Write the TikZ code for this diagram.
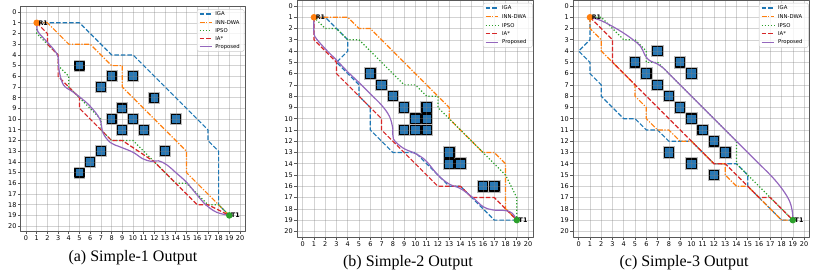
\documentclass[tikz,border=0pt]{standalone}
\usepackage{fontspec}
\setmainfont{Liberation Serif}
\setsansfont{DejaVu Sans}
\usepackage{xcolor}
\usepackage{tikz}

\definecolor{igablue}{HTML}{1F77B4}
\definecolor{innorange}{HTML}{FF7F0E}
\definecolor{ipsogreen}{HTML}{2CA02C}
\definecolor{iared}{HTML}{D62728}
\definecolor{propviolet}{HTML}{9467BD}
\definecolor{obsblue}{HTML}{2878B5}

% grid, frame and ticks of one panel (grid units)
\newcommand{\gridaxes}{%
  \foreach \k in {0,...,20} {
    \draw[gridln] (\k,-0.5) -- (\k,20.5);
    \draw[gridln] (-0.5,\k) -- (20.5,\k);
    \draw[axln] (\k,20.5) -- ++(0,0.28) node[ticklab, anchor=north] {\k};
    \draw[axln] (-0.5,\k) -- ++(-0.28,0) node[ticklab, anchor=east] {\k};
  }
  \draw[axln] (-0.5,-0.5) rectangle (20.5,20.5);
}
\newcommand{\blocks}[1]{%
  \foreach \ox/\oy in {#1}
    \fill[obstout] (\ox-0.56,\oy-0.56) rectangle (\ox+0.56,\oy+0.56);
  \foreach \ox/\oy in {#1}
    \filldraw[obstin] (\ox-0.42,\oy-0.42) rectangle (\ox+0.42,\oy+0.42);
}
\newcommand{\plotlegend}{%
  \draw[legbox] (16,-0.25) rectangle (20.38,3.68);
  \foreach \st/\nm [count=\i from 0] in {iga/IGA, inn/INN-DWA, ipso/IPSO, iast/IA*, prop/Proposed} {
    \draw[\st] (16.22,{0.18+0.76*\i}) -- (17.36,{0.18+0.76*\i});
    \node[legtext] at (17.68,{0.18+0.76*\i}) {\nm};
  }
}

\begin{document}
\begin{tikzpicture}[
  x=1pt, y=-1pt,
  gridln/.style={draw=gray, opacity=0.35, line width=0.6pt},
  axln/.style={draw=black!65, line width=0.7pt},
  ticklab/.style={font=\sffamily\fontsize{6.5}{7}\selectfont, inner sep=0.8pt},
  obstout/.style={fill=gray!55},
  obstin/.style={fill=obsblue, draw=black, line width=1.2pt},
  iga/.style={draw=igablue, line width=1.2pt, dash pattern=on 4.5pt off 2pt},
  inn/.style={draw=innorange, line width=1.2pt, dash pattern=on 5pt off 1.6pt on 1.2pt off 1.6pt},
  ipso/.style={draw=ipsogreen, line width=1.2pt, dash pattern=on 1.2pt off 2pt},
  iast/.style={draw=iared, line width=1.2pt, dash pattern=on 4.5pt off 2pt},
  prop/.style={draw=propviolet, line width=1.2pt},
  startdot/.style={circle, fill=innorange, minimum size=6.6pt, inner sep=0pt},
  goaldot/.style={circle, fill=ipsogreen, minimum size=6.6pt, inner sep=0pt},
  ptlab/.style={font=\sffamily\bfseries\fontsize{6.3}{7}\selectfont, anchor=west, inner sep=0pt},
  legbox/.style={draw=black!20, fill=white, fill opacity=0.8, rounded corners=1.5pt, line width=0.5pt},
  legtext/.style={font=\sffamily\fontsize{5.3}{6}\selectfont, anchor=west, inner sep=0pt},
  caption/.style={font=\fontsize{16}{18}\selectfont},
  line join=round,
]
  \useasboundingbox (0,0) rectangle (828,276);

  % (a)
  \begin{scope}[shift={(26pt,-12.1pt)}, x=10.7pt, y=-10.7pt]
    \blocks{5/5, 8/6, 10/6, 7/7, 12/8, 9/9, 8/10, 10/10, 14/10, 9/11, 11/11, 7/13, 13/13, 6/14, 5/15}
    \gridaxes
    \draw[iga] (1,1) -- (5,1) -- (8,4) -- (10,4) -- (17,11) -- (17,12) -- (18,13) -- (18,18) -- (19,19);
    \draw[inn] (1,1) -- (2,1) -- (4,3) -- (6,3) -- (8,5) -- (9,5) -- (9,7) -- (15,13) -- (15,15) -- (19,19);
    \draw[ipso] (1,1) -- (1,2) -- (2,3) -- (3,4) -- (3,5) -- (4,6) -- (4,7) -- (5,8) -- (6,9) -- (7,10) -- (7,11)
      -- (8,12) -- (10,12) -- (14,16) -- (15,16) -- (17,18) -- (18,18) -- (19,19);
    \draw[iast] (1,1) -- (2,2) -- (2,3) -- (3,4) -- (3,6) -- (4,7) -- (5,8) -- (5,9) -- (7,11) -- (8,12) -- (9,12)
      -- (12,14) -- (15,17) -- (16,18) -- (17,18) -- (19,19);
    \draw[prop] plot[smooth, tension=0.6] coordinates {(1,1) (1.1,1.8) (1.7,2.5) (2.6,3.5) (3,4.2) (3.1,5.5)
      (3.5,6.8) (4.3,7.4) (5.1,8) (6,8.8) (6.9,10) (7.2,11.3) (7.9,12.2) (8.8,12.6) (10,13.1) (10.9,13.7)
      (11.7,13.95) (12.4,13.9) (13.2,14.3) (14,15) (15,15.9) (16,17.1) (16.8,18) (17.8,18.7) (19,19)};
    \node[startdot] (sa) at (1,1) {};
    \node[goaldot] (ga) at (19,19) {};
    \node[ptlab] (ra) at (1.15,1) {R1};
    \node[ptlab] (ta) at (19.15,19) {T1};
    \plotlegend
  \end{scope}

  % (b)
  \begin{scope}[shift={(302.7pt,-6pt)}, x=11.27pt, y=-11.27pt]
    \blocks{6/6, 7/7, 8/8, 9/9, 11/9, 10/10, 11/10, 9/11, 10/11, 11/11, 13/13, 13/14, 14/14, 16/16, 17/16}
    \gridaxes
    \draw[iga] (1,1) -- (2,1) -- (4,3) -- (4,4) -- (3,5) -- (5,7) -- (5,8) -- (6,9) -- (6,11) -- (7,12) -- (8,13)
      -- (10,13) -- (13,16) -- (14,16) -- (17,19) -- (19,19);
    \draw[inn] (1,1) -- (4,1) -- (5,2) -- (6,2) -- (13,9) -- (13,10) -- (16,13) -- (17,13) -- (18,14) -- (18,18) -- (19,19);
    \draw[ipso] (1,1) -- (2,2) -- (3,2) -- (4,3) -- (5,3) -- (9,7) -- (10,7) -- (11,8) -- (12,8) -- (12,9)
      -- (16,13) -- (18,15) -- (19,17) -- (19,19);
    \draw[iast] (1,1) -- (1,3) -- (3,5) -- (3,6) -- (6,9) -- (7,10) -- (7,11) -- (8,12) -- (12,16) -- (14,16)
      -- (15,17) -- (17,17) -- (19,19);
    \draw[prop] plot[smooth, tension=0.6] coordinates {(1,1) (1,2.4) (1.25,2.95) (2.1,3.9) (3,4.8) (4,5.85)
      (4.9,6.7) (6,7.8) (7,8.8) (7.7,9.8) (8,10.9) (8.05,11.8) (8.9,12.6) (10,13.1) (10.9,13.7) (12,15)
      (13,15.8) (14,16.2) (15.1,17) (16,17.8) (16.9,18.1) (18,18.15) (18.6,18.4) (19,19)};
    \node[startdot] (sb) at (1,1) {};
    \node[goaldot] (gb) at (19,19) {};
    \node[ptlab] (rb) at (1.15,1) {R1};
    \node[ptlab] (tb) at (19.15,19) {T1};
    \plotlegend
  \end{scope}

  % (c)
  \begin{scope}[shift={(578.7pt,-6pt)}, x=11.27pt, y=-11.27pt]
    \blocks{7/4, 5/5, 9/5, 6/6, 10/6, 7/7, 8/8, 9/9, 10/10, 11/11, 12/12, 13/13, 8/13, 10/14, 12/15}
    \gridaxes
    \draw[iga] (1,1) -- (1,3) -- (0,4) -- (1,5) -- (1,6) -- (2,7) -- (2,8) -- (4,10) -- (5,10) -- (6,11) -- (7,11)
      -- (8,12) -- (10,12) -- (12,14) -- (14,14) -- (15,15) -- (15,16) -- (18,19) -- (19,19);
    \draw[inn] (1,1) -- (1,2) -- (2,3) -- (2,4) -- (3,5) -- (5,7) -- (5,8) -- (6,9) -- (6,10) -- (7,11) -- (8,11)
      -- (9,12) -- (10,12) -- (12,14) -- (13,14) -- (13,15) -- (14,16) -- (15,16) -- (18,19) -- (19,19);
    \draw[ipso] (1,1) -- (2,1) -- (3,2) -- (4,3) -- (5,3) -- (6,4) -- (6,5) -- (7,5) -- (8,6) -- (14,12) -- (14,14) -- (19,19);
    \draw[iast] (1,1) -- (3,3) -- (3,5) -- (12,14) -- (13,14) -- (16,17) -- (17,17) -- (19,19);
    \draw[prop] plot[smooth, tension=0.6] coordinates {(1,1) (2,1.3) (3.5,2.1) (4.7,2.9) (5.5,3.6) (5.9,4.4)
      (6.3,4.85) (6.9,5.1) (7.5,5.5) (8,6)}
      -- plot[smooth, tension=0.6] coordinates {(16,14) (17.2,15.2) (18.1,16.3) (18.7,17.3) (18.95,18.2) (19,19)};
    \node[startdot] (sc) at (1,1) {};
    \node[goaldot] (gc) at (19,19) {};
    \node[ptlab] (rc) at (1.15,1) {R1};
    \node[ptlab] (tc) at (19.15,19) {T1};
    \plotlegend
  \end{scope}

  \node[caption] (capa) at (133,258) {(a) Simple-1 Output};
  \node[caption] (capb) at (408,263) {(b) Simple-2 Output};
  \node[caption] (capc) at (684,263) {(c) Simple-3 Output};
\end{tikzpicture}
\end{document}
